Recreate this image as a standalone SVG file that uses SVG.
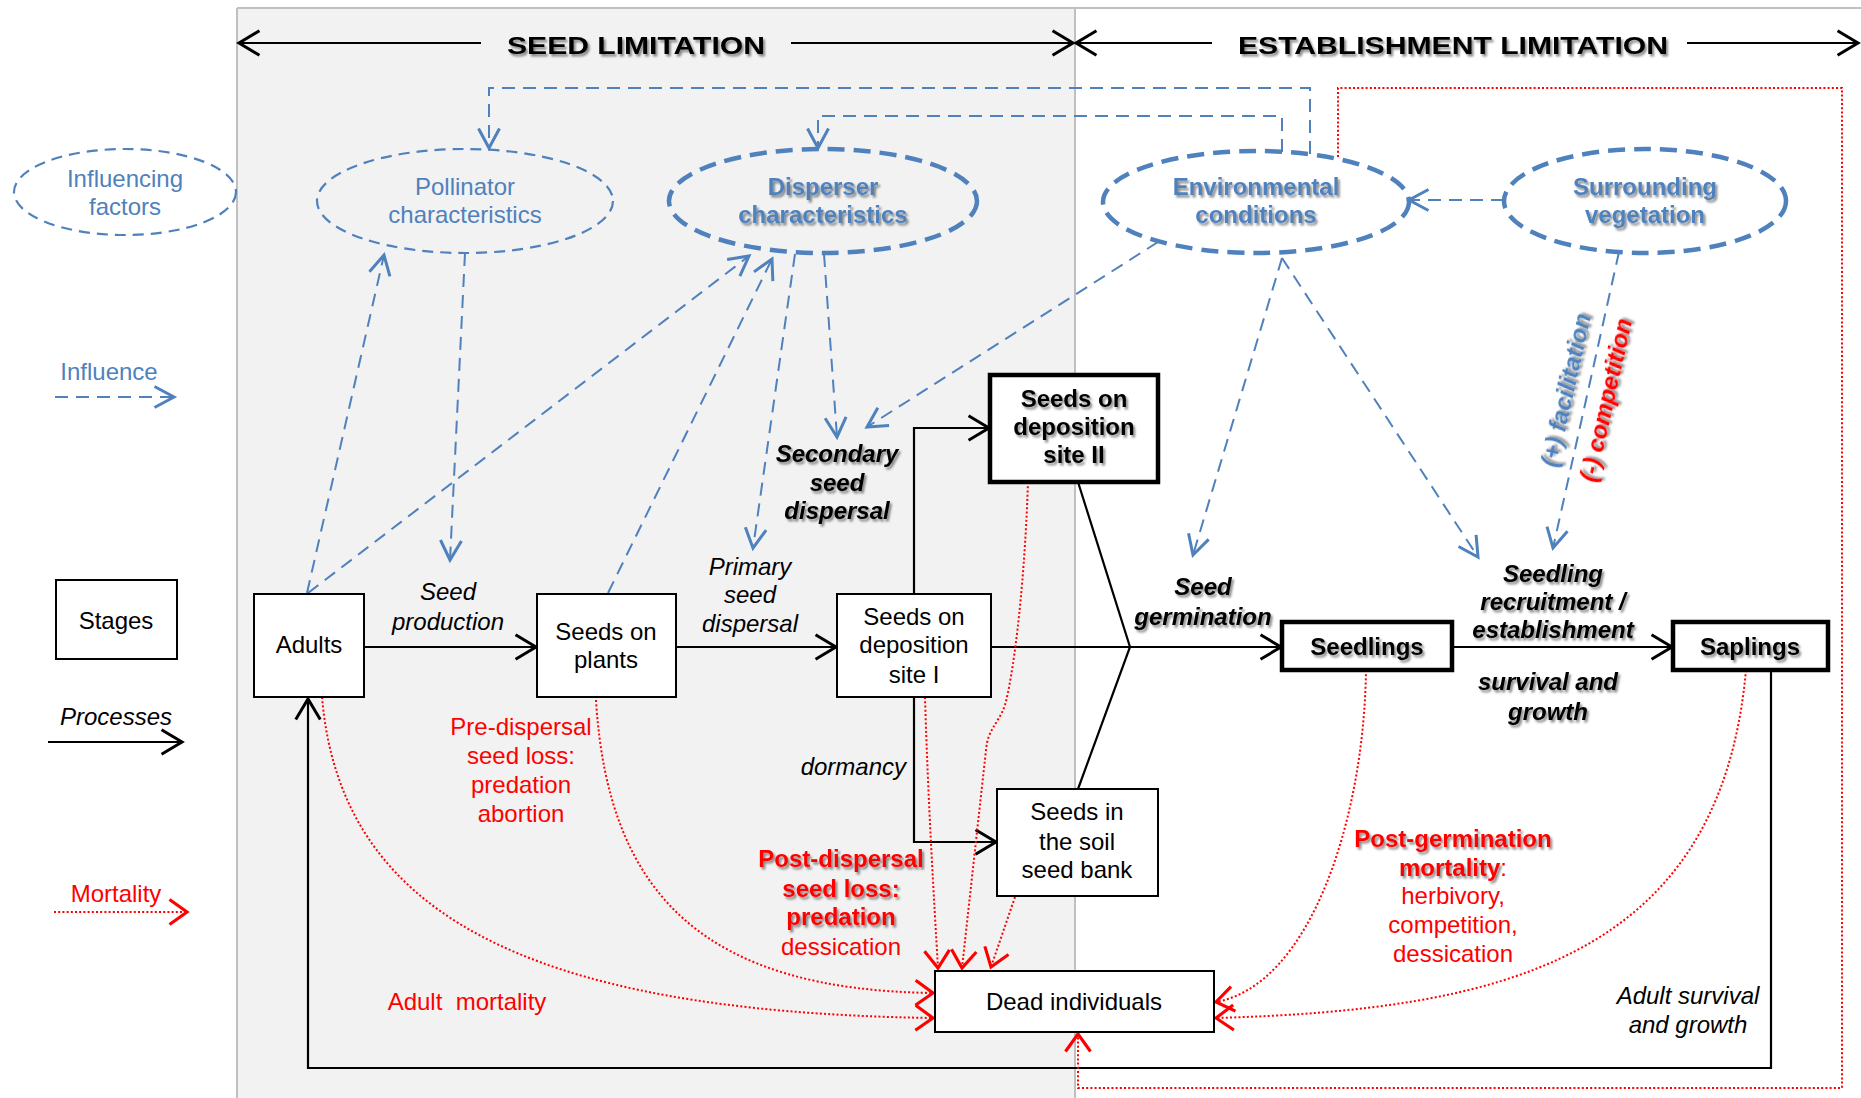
<svg xmlns="http://www.w3.org/2000/svg" width="1861" height="1098" viewBox="0 0 1861 1098">
<style>
.t{font-family:"Liberation Sans",Arial,sans-serif;font-size:24px;text-anchor:middle}
.bl{fill:#4f81bd}
.rd{fill:#ff0000}
.k{fill:#000}
.b{font-weight:bold}
.i{font-style:italic}
.sh{filter:url(#shadow)}
.box{fill:#fff;stroke:#000;stroke-width:2}
.tbox{fill:#fff;stroke:#000;stroke-width:4.5}
.ell1{fill:none;stroke:#4f81bd;stroke-width:2.2;stroke-dasharray:11 7}
.ell2{fill:none;stroke:#4f81bd;stroke-width:4.5;stroke-dasharray:17 9}
.inf{fill:none;stroke:#4f81bd;stroke-width:2;stroke-dasharray:13 8;marker-end:url(#ab)}
.pro{fill:none;stroke:#000;stroke-width:2.2}
.proa{fill:none;stroke:#000;stroke-width:2.2;marker-end:url(#ak)}
.mor{fill:none;stroke:#ff0000;stroke-width:2;stroke-dasharray:2 2.2;marker-end:url(#ar)}
</style>
<defs>
<filter id="shadow" x="-10%" y="-20%" width="130%" height="160%">
<feDropShadow dx="2" dy="2.5" stdDeviation="1.3" flood-color="#000" flood-opacity="0.45"/>
</filter>
<marker id="ab" markerUnits="userSpaceOnUse" markerWidth="30" markerHeight="30" viewBox="-16 -10 20 20" refX="0" refY="0" orient="auto">
<path d="M-13,-7 L0,0 L-13,7" fill="none" stroke="#4f81bd" stroke-width="2"/>
</marker>
<marker id="ak" markerUnits="userSpaceOnUse" markerWidth="30" markerHeight="30" viewBox="-18 -11 22 22" refX="0" refY="0" orient="auto">
<path d="M-15,-9 L0,0 L-15,9" fill="none" stroke="#000" stroke-width="2.2"/>
</marker>
<marker id="ar" markerUnits="userSpaceOnUse" markerWidth="30" markerHeight="30" viewBox="-18 -12 22 24" refX="0" refY="0" orient="auto">
<path d="M-14,-10 L0,0 L-14,10" fill="none" stroke="#ff0000" stroke-width="2.5"/>
</marker>
</defs>

<!-- background panels -->
<rect x="0" y="0" width="1861" height="1098" fill="#fff"/>
<rect x="237" y="8" width="838" height="1092" fill="#f2f2f2"/>
<g stroke="#c0c0c0" stroke-width="2" fill="none">
<line x1="237" y1="8" x2="1861" y2="8"/>
<line x1="237" y1="8" x2="237" y2="1098"/>
<line x1="1075" y1="8" x2="1075" y2="1098"/>
</g>

<!-- header -->
<g id="header">
<line class="proa" x1="481" y1="43" x2="239" y2="43"/>
<line class="proa" x1="791" y1="43" x2="1073" y2="43"/>
<line class="proa" x1="1212" y1="43" x2="1076" y2="43"/>
<line class="proa" x1="1687" y1="43" x2="1858" y2="43"/>
<text class="t b k sh" x="636" y="54" font-size="31" textLength="258" lengthAdjust="spacingAndGlyphs">SEED LIMITATION</text>
<text class="t b k sh" x="1453" y="54" font-size="31" textLength="430" lengthAdjust="spacingAndGlyphs">ESTABLISHMENT LIMITATION</text>
</g>

<!-- legend -->
<g id="legend-influencing">
<ellipse class="ell1" cx="125" cy="192" rx="111" ry="43"/>
<text class="t bl" x="125" y="187">Influencing</text>
<text class="t bl" x="125" y="215">factors</text>
</g>
<g id="legend-influence">
<text class="t bl" x="109" y="380">Influence</text>
<line class="inf" x1="55" y1="397" x2="174" y2="397"/>
</g>
<g id="legend-stages">
<rect class="box" x="56" y="580" width="121" height="79"/>
<text class="t k" x="116" y="629">Stages</text>
</g>
<g id="legend-processes">
<text class="t k i" x="116" y="725">Processes</text>
<line class="proa" x1="48" y1="742" x2="182" y2="742"/>
</g>
<g id="legend-mortality">
<text class="t rd" x="116" y="902">Mortality</text>
<line class="mor" x1="54" y1="912" x2="187" y2="912"/>
</g>

<!-- connectors -->
<g id="connectors">
<path class="inf" d="M1310,154 L1310,88 L489,88 L489,148"/>
<path class="inf" d="M1282,152 L1282,116 L818,116 L818,148"/>
<line class="inf" x1="1504" y1="200" x2="1409" y2="200"/>
<line class="inf" x1="307" y1="593" x2="384" y2="255"/>
<line class="inf" x1="465" y1="253" x2="450" y2="560"/>
<line class="inf" x1="308" y1="593" x2="749" y2="256"/>
<line class="inf" x1="608" y1="593" x2="772" y2="259"/>
<line class="inf" x1="795" y1="254" x2="753" y2="548"/>
<line class="inf" x1="824" y1="254" x2="837" y2="437"/>
<line class="inf" x1="1158" y1="242" x2="867" y2="427"/>
<line class="inf" x1="1282" y1="258" x2="1193" y2="555"/>
<line class="inf" x1="1282" y1="258" x2="1478" y2="557"/>
<line class="inf" x1="1619" y1="252" x2="1553" y2="548"/>
<line class="proa" x1="364" y1="647" x2="536" y2="647"/>
<line class="proa" x1="676" y1="647" x2="836" y2="647"/>
<line class="proa" x1="991" y1="647" x2="1281" y2="647"/>
<line class="proa" x1="1452" y1="647" x2="1672" y2="647"/>
<path class="proa" d="M914,594 L914,428 L989,428"/>
<path class="proa" d="M914,697 L914,842 L996,842"/>
<path class="pro" d="M1078,482 L1130,647 L1078,789"/>
<path class="proa" d="M1771,670 L1771,1068 L308,1068 L308,699"/>
<path class="mor" d="M322,697 C340,910 520,1012 933,1018"/>
<path class="mor" d="M596,700 C608,900 710,990 933,993"/>
<path class="mor" d="M925,697 C928,800 934,900 938,968"/>
<path class="mor" d="M1028,482 C1024,600 1012,680 1005,705 C998,725 988,728 986,750 L962,968"/>
<path class="mor" d="M1015,897 L991,967"/>
<path class="mor" d="M1366,670 C1364,820 1310,985 1216,1002"/>
<path class="mor" d="M1746,670 C1720,960 1500,1010 1216,1018"/>
<path class="mor" d="M1338,157 L1338,88 L1842,88 L1842,1088 L1078,1088 L1078,1034"/>
</g>

<!-- influencing factor nodes -->
<g id="pollinator">
<ellipse class="ell1" cx="465" cy="201" rx="148" ry="52"/>
<text class="t bl" x="465" y="195">Pollinator</text>
<text class="t bl" x="465" y="223">characteristics</text>
</g>
<g id="disperser">
<ellipse class="ell2" cx="823" cy="201" rx="154" ry="52"/>
<text class="t bl b sh" x="823" y="195">Disperser</text>
<text class="t bl b sh" x="823" y="223">characteristics</text>
</g>
<g id="environmental">
<ellipse class="ell2" cx="1256" cy="202" rx="153" ry="51"/>
<text class="t bl b sh" x="1256" y="195">Environmental</text>
<text class="t bl b sh" x="1256" y="223">conditions</text>
</g>
<g id="surrounding">
<ellipse class="ell2" cx="1645" cy="201" rx="141" ry="52"/>
<text class="t bl b sh" x="1645" y="195">Surrounding</text>
<text class="t bl b sh" x="1645" y="223">vegetation</text>
</g>

<!-- stage nodes -->
<g id="adults">
<rect class="box" x="254" y="594" width="110" height="103"/>
<text class="t k" x="309" y="653">Adults</text>
</g>
<g id="seeds-on-plants">
<rect class="box" x="537" y="594" width="139" height="103"/>
<text class="t k" x="606" y="640">Seeds on</text>
<text class="t k" x="606" y="668">plants</text>
</g>
<g id="site-I">
<rect class="box" x="837" y="594" width="154" height="103"/>
<text class="t k" x="914" y="625">Seeds on</text>
<text class="t k" x="914" y="653">deposition</text>
<text class="t k" x="914" y="683">site I</text>
</g>
<g id="site-II">
<rect class="tbox" x="990" y="375" width="168" height="107"/>
<text class="t k b sh" x="1074" y="407">Seeds on</text>
<text class="t k b sh" x="1074" y="435">deposition</text>
<text class="t k b sh" x="1074" y="463">site II</text>
</g>
<g id="seed-bank">
<rect class="box" x="997" y="789" width="161" height="107"/>
<text class="t k" x="1077" y="820">Seeds in</text>
<text class="t k" x="1077" y="850">the soil</text>
<text class="t k" x="1077" y="878">seed bank</text>
</g>
<g id="dead">
<rect class="box" x="935" y="971" width="279" height="61"/>
<text class="t k" x="1074" y="1010">Dead individuals</text>
</g>
<g id="seedlings">
<rect class="tbox" x="1282" y="622" width="170" height="48"/>
<text class="t k b sh" x="1367" y="655">Seedlings</text>
</g>
<g id="saplings">
<rect class="tbox" x="1673" y="622" width="155" height="48"/>
<text class="t k b sh" x="1750" y="655">Saplings</text>
</g>

<!-- labels -->
<g id="labels">
<text class="t k i" x="448" y="600">Seed</text>
<text class="t k i" x="448" y="630">production</text>
<text class="t k i" x="750" y="575">Primary</text>
<text class="t k i" x="750" y="603">seed</text>
<text class="t k i" x="750" y="632">dispersal</text>
<text class="t k i b sh" x="837" y="462">Secondary</text>
<text class="t k i b sh" x="837" y="491">seed</text>
<text class="t k i b sh" x="837" y="519">dispersal</text>
<text class="t k i b sh" x="1203" y="595">Seed</text>
<text class="t k i b sh" x="1203" y="625">germination</text>
<text class="t k i b sh" x="1553" y="582">Seedling</text>
<text class="t k i b sh" x="1553" y="610">recruitment /</text>
<text class="t k i b sh" x="1553" y="638">establishment</text>
<text class="t k i b sh" x="1548" y="690">survival and</text>
<text class="t k i b sh" x="1548" y="720">growth</text>
<text class="t k i" x="906" y="775" style="text-anchor:end">dormancy</text>
<text class="t k i" x="1688" y="1004">Adult survival</text>
<text class="t k i" x="1688" y="1033">and growth</text>
<text class="t bl i b sh" transform="translate(1574,392) rotate(-77.4)">(+) facilitation</text>
<text class="t rd i b sh" transform="translate(1614,402) rotate(-77.4)">(-) competition</text>
<text class="t rd" x="521" y="735">Pre-dispersal</text>
<text class="t rd" x="521" y="764">seed loss:</text>
<text class="t rd" x="521" y="793">predation</text>
<text class="t rd" x="521" y="822">abortion</text>
<text class="t rd" x="467" y="1010" xml:space="preserve">Adult  mortality</text>
<text class="t rd b sh" x="841" y="867">Post-dispersal</text>
<text class="t rd b sh" x="841" y="897">seed loss:</text>
<text class="t rd b sh" x="841" y="925">predation</text>
<text class="t rd" x="841" y="955">dessication</text>
<text class="t rd b sh" x="1453" y="847">Post-germination</text>
<text class="t rd" x="1453" y="876"><tspan class="b sh">mortality</tspan>:</text>
<text class="t rd" x="1453" y="904">herbivory,</text>
<text class="t rd" x="1453" y="933">competition,</text>
<text class="t rd" x="1453" y="962">dessication</text>
</g>
</svg>
